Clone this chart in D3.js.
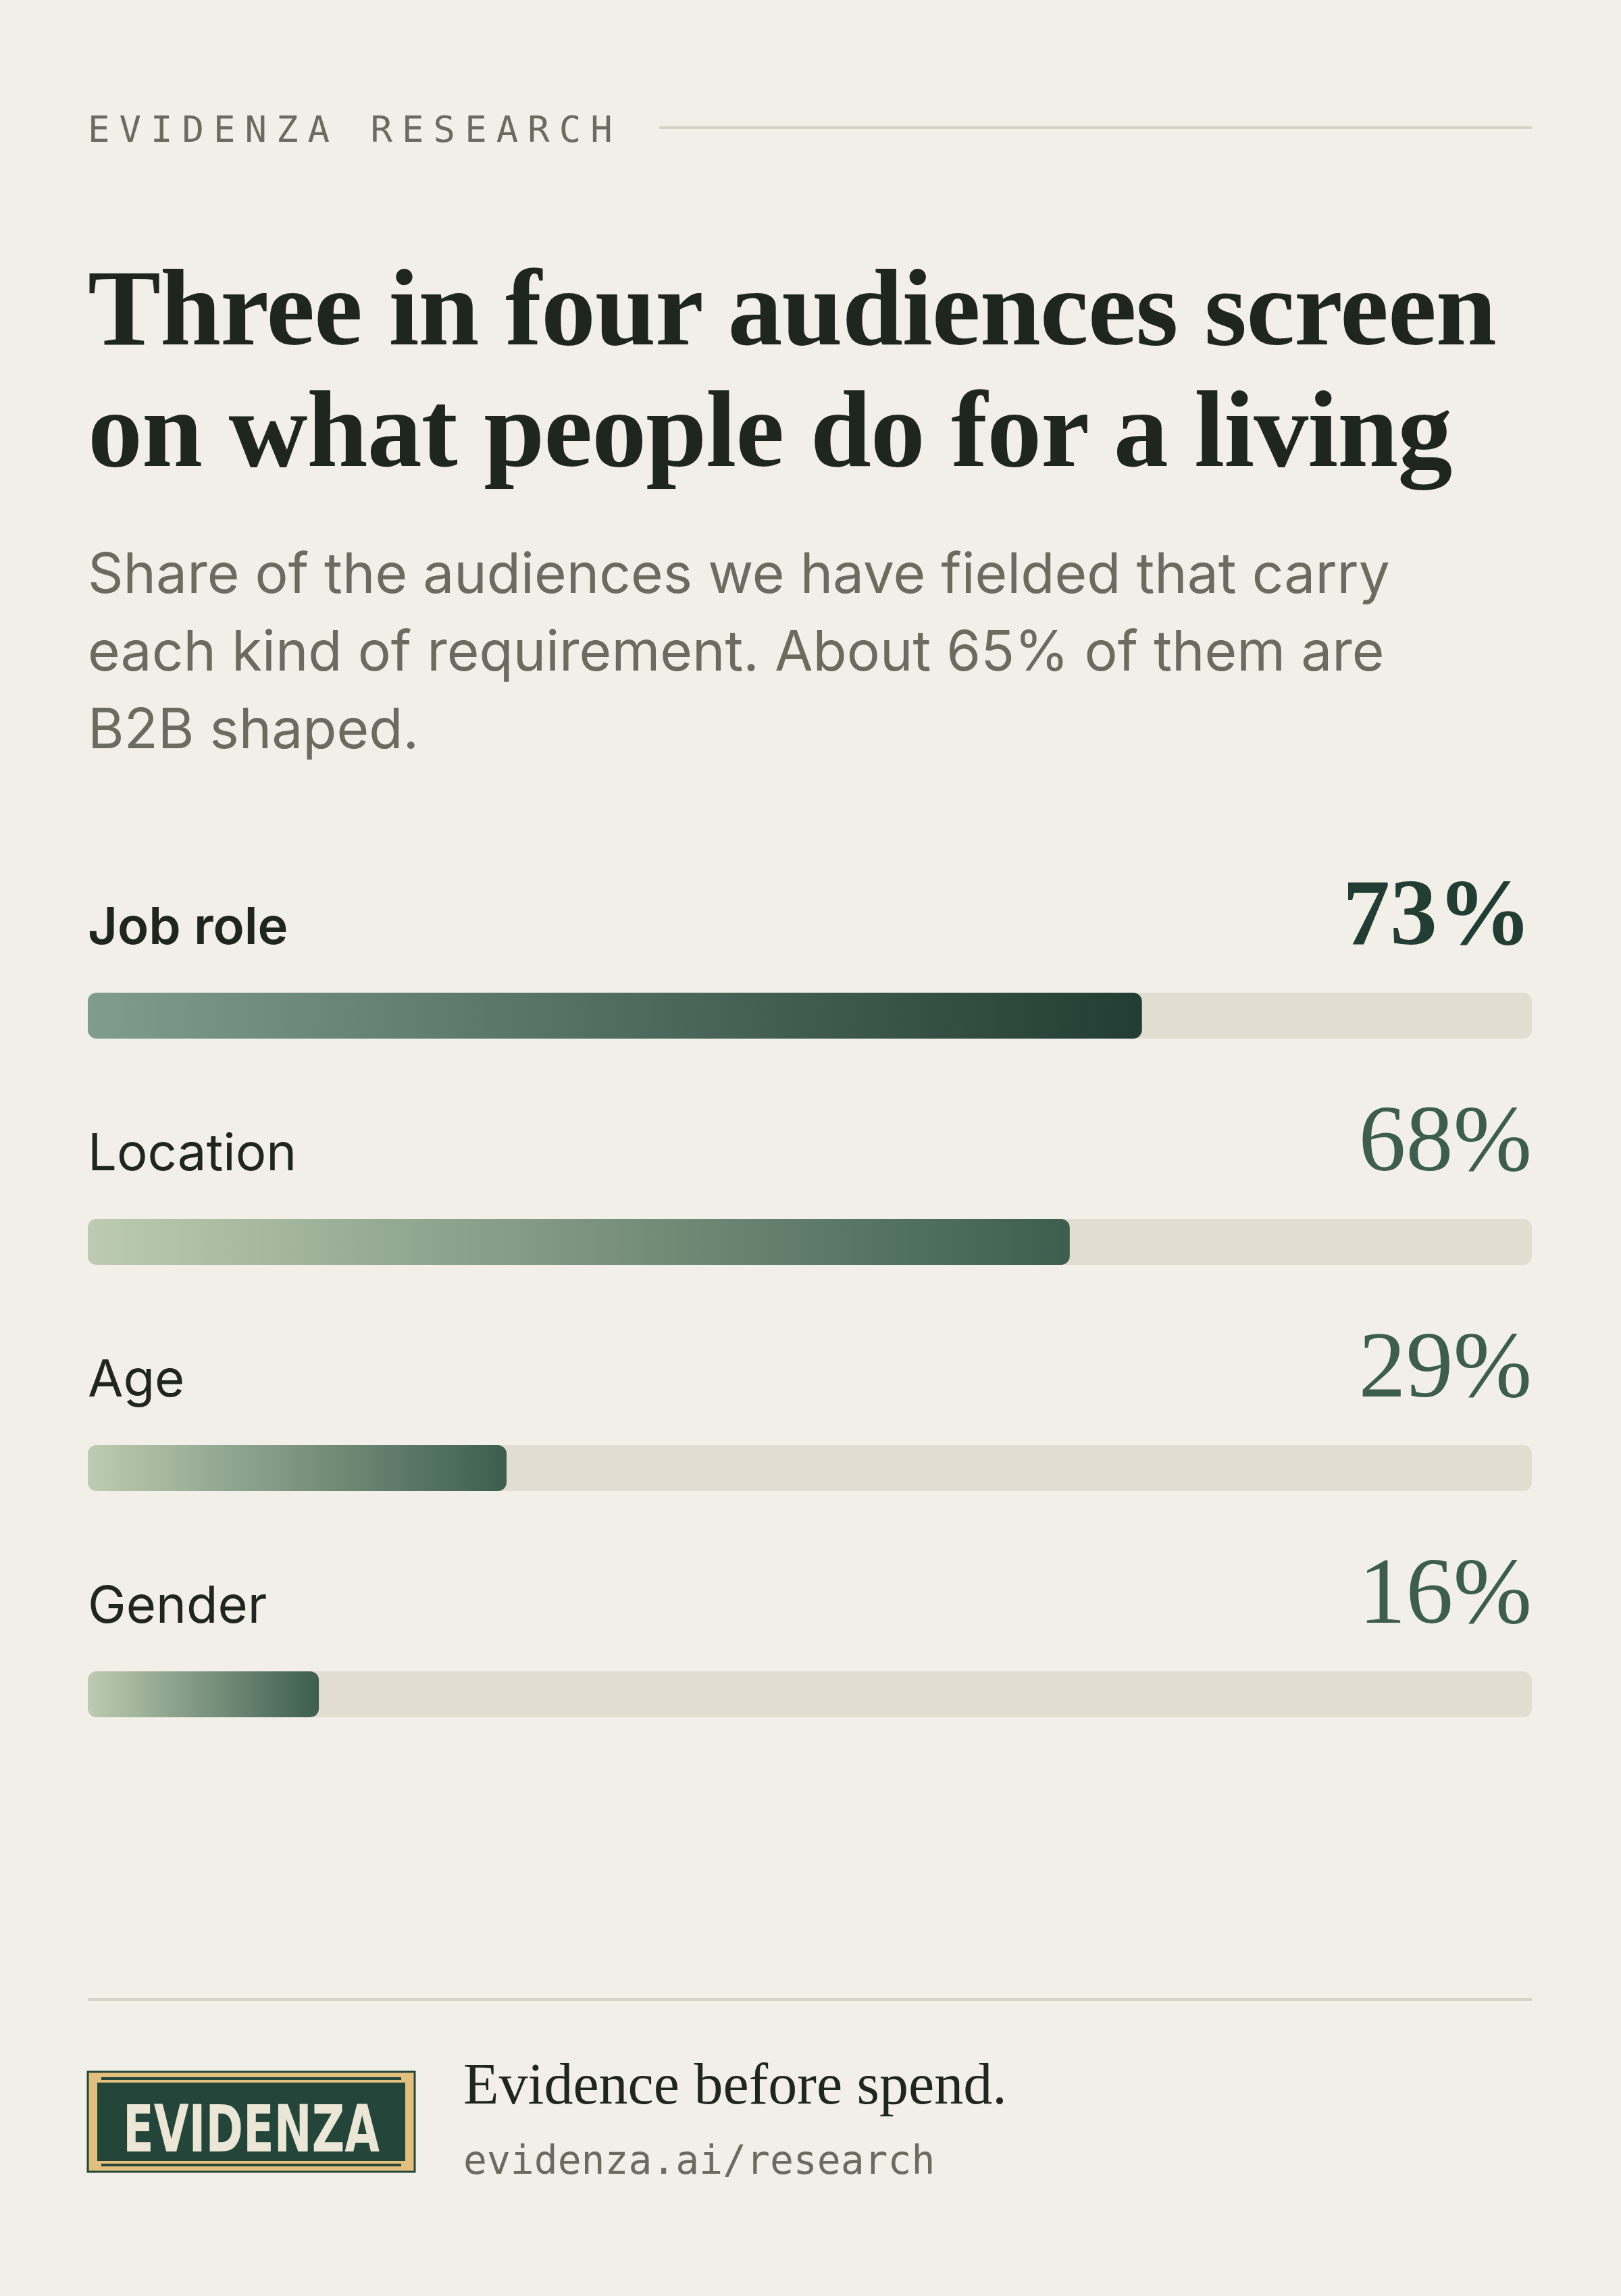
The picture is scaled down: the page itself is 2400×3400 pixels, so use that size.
<!DOCTYPE html>
<html><head><meta charset="utf-8">
<script src="https://cdn.jsdelivr.net/npm/d3@7"></script>
<style>body{margin:0;background:#f2efe8;}</style>
</head><body>
<div id="chart"></div>
<script>
const categories = ["Job role", "Location", "Age", "Gender"];
const values = [73, 68, 29, 16];
const subtitleLines = [
	"Share of the audiences we have fielded that carry",
	"each kind of requirement. About 65% of them are",
	"B2B shaped."
];

const W = 2400, H = 3400, L = 130, R = 2268;
const svg = d3.select('#chart').append('svg').attr('width', W).attr('height', H);
svg.append('rect').attr('width', W).attr('height', H).attr('fill', '#f2efe8');

svg.append('text').text('EVIDENZA RESEARCH')
	.attr('x', L).attr('y', 210)
	.attr('font-family', 'DejaVu Sans Mono').attr('font-size', 54)
	.attr('letter-spacing', 14).attr('fill', '#6b6b60');
svg.append('line').attr('x1', 976).attr('x2', R).attr('y1', 189).attr('y2', 189)
	.attr('stroke', '#d6d2c6').attr('stroke-width', 4);

const title = ["Three in four audiences screen", "on what people do for a living"];
svg.selectAll('.title').data(title).enter().append('text')
	.attr('x', L).attr('y', (d, i) => 510 + i * 180)
	.attr('font-family', 'Liberation Serif').attr('font-weight', 'bold')
	.attr('font-size', 162).attr('fill', '#1f2620').attr('letter-spacing', -1)
	.text(d => d);

svg.selectAll('.sub').data(subtitleLines).enter().append('text')
	.attr('x', L).attr('y', (d, i) => 878 + i * 115)
	.attr('font-family', 'Inter').attr('font-size', 82).attr('fill', '#6b6b60')
	.text(d => d);

const x = d3.scaleLinear().domain([0, 100]).range([L, R]);
const rowY = d3.scaleLinear().domain([0, 1]).range([1398, 1733]);
const defs = svg.append('defs');

categories.forEach((c, i) => {
	const y = rowY(i);
	const first = i === 0;
	const g = defs.append('linearGradient').attr('id', 'g' + i);
	g.append('stop').attr('offset', '0%').attr('stop-color', first ? '#7f9c8d' : '#bccbb1');
	g.append('stop').attr('offset', '100%').attr('stop-color', first ? '#223d33' : '#3d5e4e');

	svg.append('text').text(c).attr('x', L).attr('y', y)
		.attr('font-family', 'Inter').attr('font-size', 76)
		.attr('font-weight', first ? 600 : 400).attr('fill', '#1f2620');
	svg.append('text').text(values[i] + '%').attr('x', R).attr('y', y)
		.attr('text-anchor', 'end').attr('font-family', 'Liberation Serif')
		.attr('font-size', 140).attr('font-weight', first ? 'bold' : 'normal')
		.attr('fill', first ? '#223d33' : '#3d5e4e');
	svg.append('rect').attr('x', L).attr('y', y + 72).attr('width', x(100) - L).attr('height', 68)
		.attr('rx', 13).attr('fill', '#e1ddd1');
	svg.append('rect').attr('x', L).attr('y', y + 72).attr('width', x(values[i]) - L).attr('height', 68)
		.attr('rx', 13).attr('fill', 'url(#g' + i + ')');
});

svg.append('line').attr('x1', L).attr('x2', R).attr('y1', 2961).attr('y2', 2961)
	.attr('stroke', '#d6d2c6').attr('stroke-width', 4);

// logo
const logo = svg.append('g').attr('transform', 'translate(130,3068)');
logo.append('rect').attr('width', 484).attr('height', 148).attr('fill', '#e3bf7e').attr('stroke', '#23453a').attr('stroke-width', 3);
logo.append('rect').attr('x', 14).attr('y', 16).attr('width', 456).attr('height', 116).attr('fill', '#23453a');
logo.append('rect').attr('x', 20).attr('y', 8).attr('width', 444).attr('height', 4).attr('fill', '#23453a');
logo.append('rect').attr('x', 20).attr('y', 136).attr('width', 444).attr('height', 4).attr('fill', '#23453a');
logo.append('text').text('EVIDENZA').attr('x', 242).attr('y', 118)
	.attr('text-anchor', 'middle').attr('font-family', 'DejaVu Sans Condensed')
	.attr('font-weight', 'bold').attr('font-size', 96).attr('fill', '#ece6d6')
	.attr('textLength', 380).attr('lengthAdjust', 'spacingAndGlyphs');

svg.append('text').text('Evidence before spend.').attr('x', 686).attr('y', 3115)
	.attr('font-family', 'Liberation Serif').attr('font-size', 86).attr('fill', '#1f2620');
svg.append('text').text('evidenza.ai/research').attr('x', 686).attr('y', 3219)
	.attr('font-family', 'DejaVu Sans Mono').attr('font-size', 58).attr('fill', '#6b6b60');
</script>
</body></html>
